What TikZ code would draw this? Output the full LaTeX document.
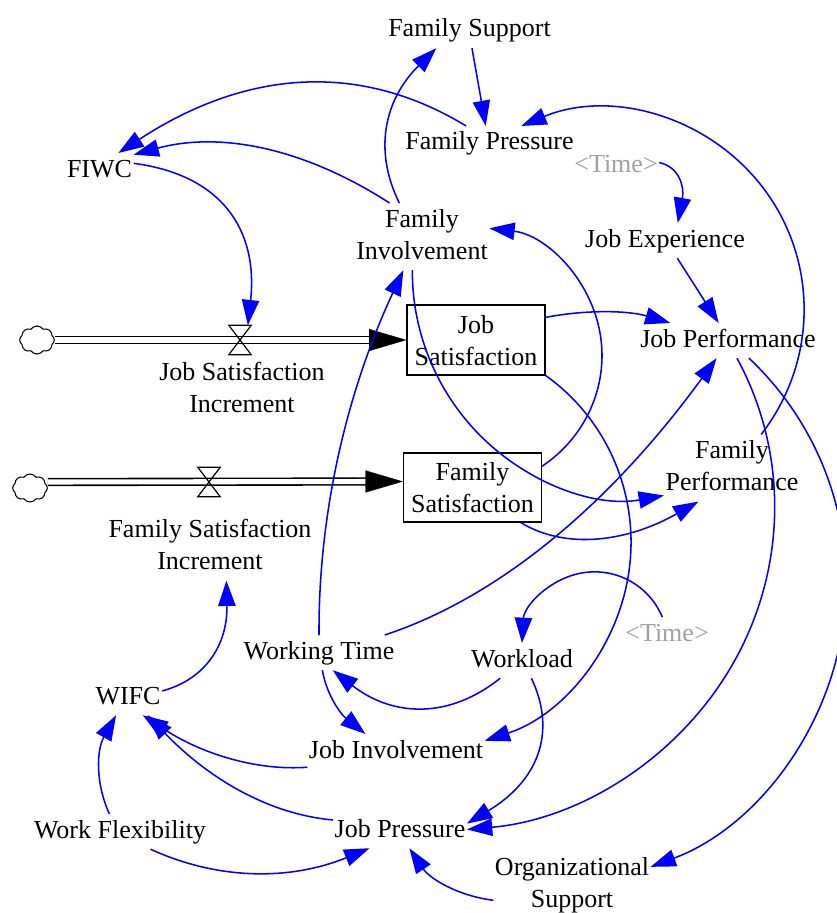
\documentclass[tikz,border=0pt]{standalone}
\usepackage{fontspec}
\setmainfont{Liberation Serif}
\usetikzlibrary{arrows.meta,shapes.symbols}
\definecolor{linkblue}{RGB}{0,0,255}
\definecolor{ghost}{RGB}{160,160,160}
\begin{document}
\begin{tikzpicture}[x=0.75pt,y=-0.75pt,
  var/.style={font=\fontsize{19.5}{24}\selectfont, inner sep=1pt, align=center},
  shadowvar/.style={var, text=ghost},
  stock/.style={var, draw, line width=0.9pt, minimum width=103.5pt, minimum height=51pt, inner sep=0pt},
  cloudsym/.style={cloud, draw, cloud puffs=8, cloud puff arc=110, minimum width=26pt, minimum height=21pt, inner sep=0pt, line width=0.8pt},
  valve/.style={minimum width=16.5pt, minimum height=21.75pt, inner sep=0pt},
  valveline/.style={line width=0.9pt},
  pipe/.style={double, double distance=3.8pt, line width=1.2pt},
  pipehead/.style={-{Triangle[length=28pt,width=16.5pt]}, line width=0.2pt},
  link/.style={draw=linkblue, line width=1.15pt, -{Triangle[length=19pt,width=13pt]}}
]
\fill[white] (0,0) rectangle (837,913);
\useasboundingbox (0,0) rectangle (837,913);
\clip (0,0) rectangle (837,913);

% variables
\node[var] (fsup) at (469.5,30.6) {Family Support\strut};
\node[var] (fpres) at (489.5,143.6) {Family Pressure\strut};
\node[var] (fiwc) at (99.5,170.6) {FIWC\strut};
\node[shadowvar] (time1) at (616,165.6) {\textless Time\textgreater\strut};
\node[var] (finv) at (422,236.6) {Family\strut\\Involvement\strut};
\node[var] (jexp) at (665,240.6) {Job Experience\strut};
\node[stock] (jsat) at (476,340) {\rule{0pt}{21.3pt}Job\\Satisfaction\strut};
\node[var] (jperf) at (728,340.6) {Job Performance\strut};
\node[stock] (fsat) at (472.5,487.5) {\rule{0pt}{20.5pt}Family\\Satisfaction\strut};
\node[var] (fperf) at (732,468) {Family\strut\\Performance\strut};
\node[var] (jsi) at (242,389.6) {Job Satisfaction\strut\\Increment\strut};
\node[var] (fsi) at (210,547) {Family Satisfaction\strut\\Increment\strut};
\node[var] (wt) at (319,652.6) {Working Time\strut};
\node[var] (wl) at (522,660.6) {Workload\strut};
\node[shadowvar] (time2) at (667,634.6) {\textless Time\textgreater\strut};
\node[var] (wifc) at (128,697.6) {WIFC\strut};
\node[var] (jinv) at (396,751.6) {Job Involvement\strut};
\node[var] (wf) at (120,831.6) {Work Flexibility\strut};
\node[var] (jpres) at (400,830.6) {Job Pressure\strut};
\node[var] (os) at (572,885) {Organizational\strut\\Support\strut};

% clouds and valves
\node[cloudsym] (cloud1) at (37,340) {};
\node[cloudsym] (cloud2) at (30,488) {};
\node[valve] (v1) at (240,340) {};
\node[valve] (v2) at (209,482) {};

% flows
\draw[pipe] (cloud1.east) -- ([xshift=-20pt]jsat.west);
\draw[pipehead] ([xshift=-28pt]jsat.west) -- (jsat.west);
\draw[pipe] ([yshift=4.5pt]cloud2.east) -- ([xshift=-20pt,yshift=4.5pt]fsat.west);
\draw[pipehead] ([xshift=-28pt,yshift=4.5pt]fsat.west) -- ([yshift=4.5pt]fsat.west);
\draw[valveline] (v1.north west) -- (v1.north east) -- (v1.center) -- cycle
                 (v1.south west) -- (v1.south east) -- (v1.center) -- cycle;
\draw[valveline] (v2.north west) -- (v2.north east) -- (v2.center) -- cycle
                 (v2.south west) -- (v2.south east) -- (v2.center) -- cycle;

% links
\draw[link] (finv.124.7) .. controls (373,150) and (384.7,99.3) .. (fsup.208);
\draw[link] (fsup.278) -- (fpres.102.3);
\draw[link] (fpres.143.2) .. controls (359.3,61) and (246,69.7) .. (fiwc.43.8);
\draw[link] (finv.134.5) .. controls (303.7,147.7) and (220,131.3) .. (fiwc.25.1);
\draw[link] (fiwc.12.9) .. controls (221.7,174.7) and (258.3,230) .. (v1.62);
\draw[link] (fperf.49.3) .. controls (818.6,360) and (817.9,258.8) .. (762.3,186.8) .. controls (706.7,114.8) and (609.7,89.3) .. (fpres.29.8);
\draw[link] (time1.4.5) .. controls (678.7,166.7) and (684.7,186) .. (jexp.54);
\draw[link] (jexp.305.2) -- (jperf.118.1);
\draw[link] (jsat.18.2) .. controls (585.3,309.7) and (627.3,310.3) .. (jperf.163);
\draw[link] (fsat.17.9) .. controls (587.7,435.8) and (610.5,381.3) .. (599.1,328.3) .. controls (587.7,275.3) and (544.6,234.8) .. (finv.7.9);
\draw[link] (finv.254) .. controls (411.9,333.3) and (437.8,395.8) .. (485.5,440.7) .. controls (533.2,485.6) and (597.2,507.6) .. (fperf.202.5);
\draw[link] (fsat.324) .. controls (566,550) and (626.7,542) .. (fperf.225);
\draw[link] (jsat.333.1) .. controls (608.7,420.4) and (640.8,497.9) .. (628.4,575) .. controls (616,652.1) and (561.3,715.8) .. (jinv.7.3);
\draw[link] (wt.90) .. controls (318.3,513.3) and (346.7,392) .. (finv.241.6);
\draw[link] (wt.15) .. controls (497,598) and (608.3,506.7) .. (jperf.237.7);
\draw[link] (jperf.297.4) .. controls (789.2,454.2) and (786.8,570.2) .. (732.3,664.8) .. controls (677.8,759.4) and (578.6,819.7) .. (jpres.1);
\draw[link] (jperf.320.4) .. controls (825.8,430.5) and (860.5,537.1) .. (840.5,640.7) .. controls (820.5,744.3) and (748.8,830.3) .. (os.13);
\draw[link] (time2.105.9) .. controls (649.1,585.6) and (616.3,567.3) .. (582.8,572.8) .. controls (549.3,578.3) and (524.1,606.2) .. (wl.90);
\draw[link] (wl.219.4) .. controls (449,719.3) and (392.7,717) .. (wt.308.8);
\draw[link] (wt.281.7) .. controls (325.7,691.7) and (339,712.7) .. (jinv.150.6);
\draw[link] (wl.298.8) .. controls (557.3,732.7) and (537.7,781) .. (jpres.6.8);
\draw[link] (jinv.190) .. controls (256.3,771) and (201.3,753.7) .. (wifc.310.8);
\draw[link] (jpres.171.4) .. controls (270,814.3) and (210,780) .. (wifc.318.6);
\draw[link] (wf.121) .. controls (95,782.3) and (96.7,749.7) .. (wifc.236.2);
\draw[link] (wifc.11.6) .. controls (206.7,679) and (227.7,643.3) .. (fsi.296.6);
\draw[link] (wf.330.1) .. controls (220,881) and (292,880) .. (jpres.210);
\draw[link] (os.191.3) .. controls (456.7,895.7) and (429.3,878) .. (jpres.298.5);
\end{tikzpicture}
\end{document}
